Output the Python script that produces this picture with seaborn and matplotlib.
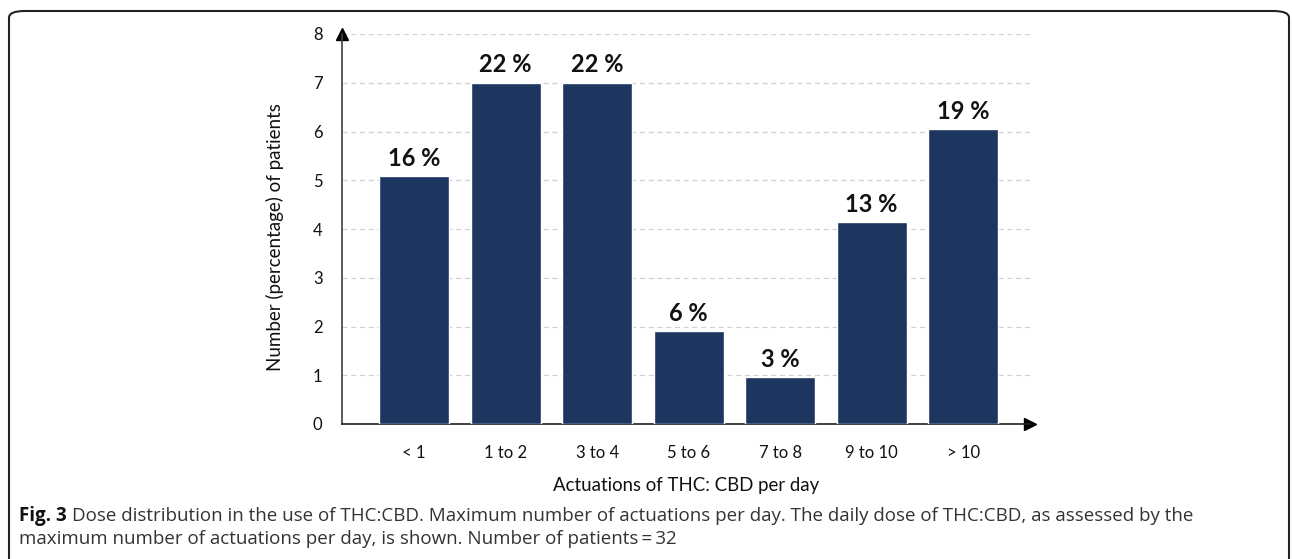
import numpy as np
import pandas as pd
import seaborn as sns
from matplotlib import pyplot as plt
from matplotlib.patches import FancyBboxPatch

# data
categories = ['< 1', '1 to 2', '3 to 4', '5 to 6', '7 to 8', '9 to 10', '> 10']
patients = [5.08, 7.0, 7.0, 1.9, 0.96, 4.14, 6.05]
percent_labels = ['16 %', '22 %', '22 %', '6 %', '3 %', '13 %', '19 %']

caption_line1 = ('Dose distribution in the use of THC:CBD. Maximum number of actuations per day. '
                 'The daily dose of THC:CBD, as assessed by the')
caption_line2 = 'maximum number of actuations per day, is shown. Number of patients\u2009=\u200932'

bar_color = '#1c365f'
W, H = 1292, 559

sns.set_style('white')
plt.rcParams['font.family'] = ['Lato', 'DejaVu Sans']

df = pd.DataFrame({'category': categories, 'patients': patients})

fig = plt.figure(figsize=(W / 100, H / 100), dpi=100)
ax = fig.add_axes([342 / W, 1 - 424 / H, (1030 - 342) / W, (424 - 34) / H])

sns.barplot(data=df, x='category', y='patients', color=bar_color,
            width=0.765, saturation=1, ax=ax, zorder=3)

ax.set_xlim(-0.787, 6.73)
ax.set_ylim(0, 8)
ax.set_yticks(range(0, 9))
ax.yaxis.grid(True, linestyle=(0, (4, 3)), color='#d0d0d0', linewidth=0.9, zorder=0)
ax.xaxis.grid(False)

for side in ['top', 'right']:
    ax.spines[side].set_visible(False)
ax.spines['left'].set_color('#404040')
ax.spines['bottom'].set_color('#202020')
ax.spines['left'].set_linewidth(1.2)
ax.spines['bottom'].set_linewidth(1.2)

# axis arrows
ax.plot(0, 1, marker='^', color='black', markersize=8, transform=ax.transAxes, clip_on=False)
ax.plot(1, 0, marker='>', color='black', markersize=8, transform=ax.transAxes, clip_on=False)

ax.tick_params(axis='both', length=0, labelsize=12, colors='#111111')
ax.tick_params(axis='x', pad=15)
ax.tick_params(axis='y', pad=14)

ax.set_xlabel('Actuations of THC: CBD per day', fontsize=13.4, labelpad=12, color='#111111')
ax.set_ylabel('Number (percentage) of patients', fontsize=13.5, color='#111111')
ax.yaxis.set_label_coords(-0.085, 0.48)

for i, (v, lab) in enumerate(zip(patients, percent_labels)):
    ax.text(i, v + 0.13, lab, ha='center', va='bottom', fontsize=17,
            fontweight='bold', color='#111111')

# rounded frame around figure
frame = FancyBboxPatch((9 / W, -0.1), (1289 - 9) / W, 1.1 - 11 / H,
                       boxstyle='round,pad=0,rounding_size=0.012',
                       transform=fig.transFigure, fill=False,
                       edgecolor='#222222', linewidth=1.5)
fig.patches.append(frame)

# caption
cap_font = dict(fontsize=13.5, family=['Open Sans', 'DejaVu Sans'], va='center', ha='left')
fig_label = fig.text(19 / W, 1 - 516 / H, 'Fig. 3', fontweight='bold', color='#111111', **cap_font)
renderer = fig.canvas.get_renderer()
label_w = fig_label.get_window_extent(renderer).width
fig.text((19 + label_w + 5) / W, 1 - 516 / H, caption_line1, color='#333333', **cap_font)
fig.text(19 / W, 1 - 539 / H, caption_line2, color='#333333', **cap_font)

plt.savefig('out.png', dpi=100)
